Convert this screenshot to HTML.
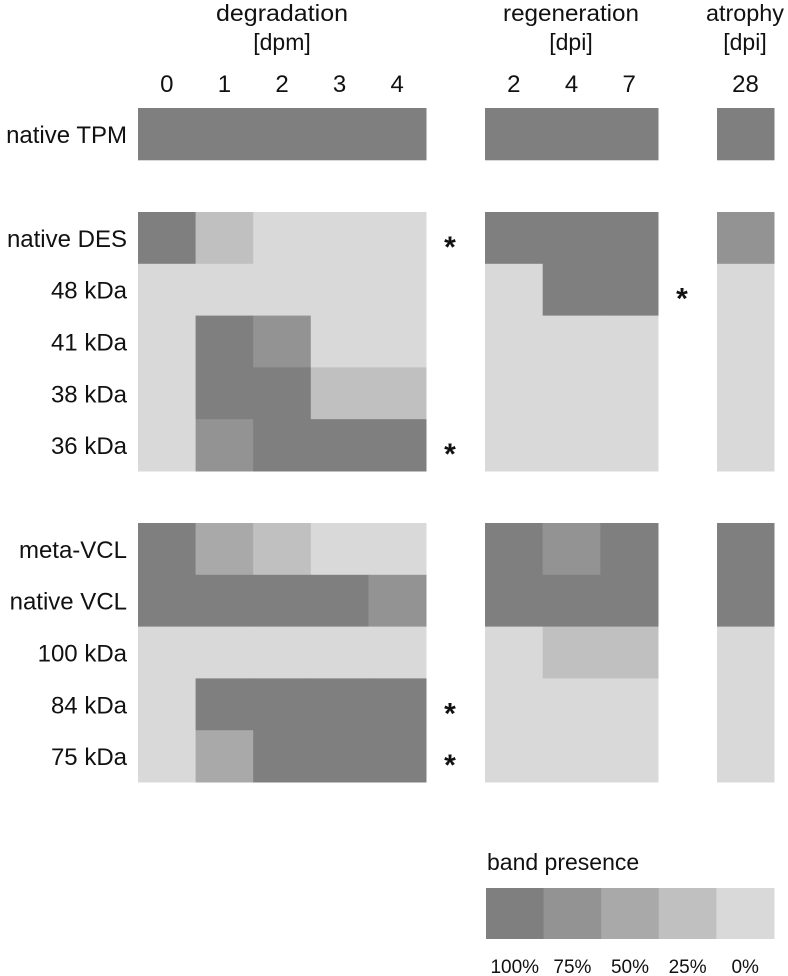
<!DOCTYPE html>
<html><head><meta charset="utf-8"><style>
html,body{margin:0;padding:0;background:#fff;}
svg{display:block;font-family:"Liberation Sans",sans-serif;}
</style></head><body>
<svg id="chart" width="788" height="976" viewBox="0 0 788 976">
<g id="headers" fill="#111" font-size="23" text-anchor="middle">
<text x="282" y="21" textLength="132" lengthAdjust="spacingAndGlyphs">degradation</text>
<text x="282" y="50">[dpm]</text>
<text x="571" y="21" textLength="136" lengthAdjust="spacingAndGlyphs">regeneration</text>
<text x="571" y="50">[dpi]</text>
<text x="745" y="21" textLength="78" lengthAdjust="spacingAndGlyphs">atrophy</text>
<text x="745" y="50">[dpi]</text>
</g>
<g id="ticks" fill="#111" font-size="24" text-anchor="middle"></g>
<g id="labels" fill="#111" font-size="24" text-anchor="end"></g>
<g id="cells"></g>
<g id="stars" fill="#111" font-size="30" font-weight="bold" text-anchor="middle"></g>
<g id="legend">
<text x="487" y="870" font-size="23" fill="#111">band presence</text>
</g>
</svg>
<script>
const levelColors = ["#d9d9d9","#c0c0c0","#a9a9a9","#939393","#7f7f7f"];
const legendLabels = ["100%","75%","50%","25%","0%"];
const legendLevels = [4,3,2,1,0];
const rowLabels = ["native TPM","native DES","48 kDa","41 kDa","38 kDa","36 kDa","meta-VCL","native VCL","100 kDa","84 kDa","75 kDa"];
const rowGroup = [0,1,1,1,1,1,2,2,2,2,2];
const degTicks = ["0","1","2","3","4"];
const regTicks = ["2","4","7"];
const atrTicks = ["28"];
const degradation = [
 [4,4,4,4,4],[4,1,0,0,0],[0,0,0,0,0],[0,4,3,0,0],[0,4,4,1,1],[0,3,4,4,4],
 [4,2,1,0,0],[4,4,4,4,3],[0,0,0,0,0],[0,4,4,4,4],[0,2,4,4,4]];
const regeneration = [
 [4,4,4],[4,4,4],[0,4,4],[0,0,0],[0,0,0],[0,0,0],
 [4,3,4],[4,4,4],[0,1,1],[0,0,0],[0,0,0]];
const atrophy = [[4],[3],[0],[0],[0],[0],[4],[4],[0],[0],[0]];
const degStars = [1,5,9,10];
const regStars = [2];

const NS="http://www.w3.org/2000/svg";
const panels=[
 {name:"degradation",x0:138,x1:426,data:degradation,ticks:degTicks,starX:450,stars:degStars},
 {name:"regeneration",x0:485,x1:658,data:regeneration,ticks:regTicks,starX:682,stars:regStars},
 {name:"atrophy",x0:717,x1:774,data:atrophy,ticks:atrTicks,starX:null,stars:[]}];
const rowH=51.8;
const groupTop=[108,212,523];
function rowY(i){let g=rowGroup[i];let first=rowGroup.indexOf(g);return groupTop[g]+(i-first)*rowH;}
function colX(p,j){return p.x0+j*(p.x1-p.x0)/p.ticks.length;}
function colW(p){return (p.x1-p.x0)/p.ticks.length;}
const cells=document.getElementById('cells'),ticks=document.getElementById('ticks'),labels=document.getElementById('labels'),stars=document.getElementById('stars'),legend=document.getElementById('legend');
function mk(tag,attrs,parent){const e=document.createElementNS(NS,tag);for(const k in attrs)e.setAttribute(k,attrs[k]);parent.appendChild(e);return e;}
panels.forEach(p=>{
 p.ticks.forEach((t,j)=>{
  const e=mk('text',{x:colX(p,j)+colW(p)/2,y:92},ticks);
  e.textContent=t;
  
  
 });
 p.data.forEach((row,i)=>{
  row.forEach((v,j)=>{
   const r=mk('rect',{x:colX(p,j),y:rowY(i),width:colW(p)+0.5,height:rowH+0.5,fill:levelColors[v]},cells);
   
   
  });
 });
 p.stars.forEach(i=>{
  const s=mk('text',{x:p.starX,y:rowY(i)+rowH/2+19},stars);
  s.textContent='*';
  
  
 });
});
rowLabels.forEach((l,i)=>{
 const e=mk('text',{x:127,y:rowY(i)+rowH/2+9},labels);
 e.textContent=l;
 
 
});
const lw=(774-486)/legendLevels.length;
legendLevels.forEach((v,k)=>{
 const r=mk('rect',{x:486+k*lw,y:888,width:lw+0.5,height:51,fill:levelColors[v]},legend);
 
 
 const t=mk('text',{x:486+k*lw+lw/2,y:973,'font-size':19,'text-anchor':'middle',fill:'#111'},legend);
 t.textContent=legendLabels[k];
 
 
});
</script>
</body></html>
